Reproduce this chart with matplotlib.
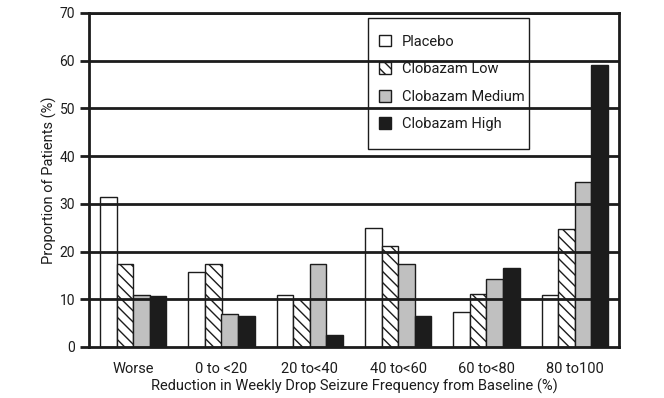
import matplotlib
matplotlib.use("Agg")
import matplotlib.pyplot as plt
import numpy as np
from matplotlib.patches import Patch, Rectangle

plt.rcParams['font.family'] = ['Roboto', 'Liberation Sans', 'DejaVu Sans']
plt.rcParams['hatch.linewidth'] = 1.0

categories = ["Worse", "0 to <20", "20 to<40", "40 to<60", "60 to<80", "80 to100"]
series = ["Placebo", "Clobazam Low", "Clobazam Medium", "Clobazam High"]
placebo = [31.5, 15.8, 11.0, 24.9, 7.3, 11.0]
clob_low = [17.3, 17.3, 10.0, 21.1, 11.2, 24.7]
clob_med = [10.8, 7.0, 17.3, 17.5, 14.2, 34.6]
clob_high = [10.6, 6.4, 2.5, 6.4, 16.6, 59.1]
yticks = [0, 10, 20, 30, 40, 50, 60, 70]

values = [placebo, clob_low, clob_med, clob_high]
faces = ["white", "white", "#c0c0c0", "#1c1c1c"]
hatches = [None, "\\\\\\", None, None]
ink = "#1c1c1c"

fig = plt.figure(figsize=(6.64, 3.98), dpi=100)
ax = fig.add_axes([89/664, 1-347/398, 530/664, 334/398])

def fx(px):
    return (px - 89) / 530

def fy(py):
    return (347 - py) / 334

x = np.arange(len(categories))
w = 0.187
for i, (vals, fc, h) in enumerate(zip(values, faces, hatches)):
    ax.bar(x + (i - 1.5) * w, vals, width=w, color=fc, edgecolor=ink,
           linewidth=1.0, hatch=h, zorder=2)

for yv in yticks[1:]:
    ax.axhline(yv, color=ink, linewidth=2.0, zorder=3)

ax.set_xlim(-0.5, 5.5)
ax.set_ylim(0, 70)
ax.set_yticks(yticks)
ax.set_xticks(x)
ax.set_xticklabels(categories, fontsize=10.5)
ax.tick_params(axis='x', length=0, pad=11, colors=ink)
ax.tick_params(axis='y', length=6.5, width=2, pad=3.5, labelsize=10, direction='out', colors=ink)
for s in ax.spines.values():
    s.set_linewidth(2.0)
    s.set_color(ink)
    s.set_zorder(4)

ax.set_ylabel("Proportion of Patients (%)", fontsize=10.5, color=ink)
ax.yaxis.set_label_coords(fx(57), 0.5)
ax.set_xlabel("Reduction in Weekly Drop Seizure Frequency from Baseline (%)", fontsize=10.5, labelpad=2, color=ink)

# legend frame
ax.add_patch(Rectangle((fx(368), fy(149)), fx(529) - fx(368), fy(18) - fy(149),
                       transform=ax.transAxes, facecolor="white", edgecolor=ink,
                       linewidth=1.0, zorder=1))

handles = [Patch(facecolor=fc, edgecolor=ink, hatch=h, linewidth=1.0)
           for fc, h in zip(faces, hatches)]
leg = ax.legend(handles, series, loc='center left',
                bbox_to_anchor=(fx(379), fy(83)), frameon=False,
                fontsize=10.5, handlelength=0.85, handleheight=0.85,
                handletextpad=0.7, labelspacing=0.93, borderpad=0.0,
                borderaxespad=0.0)
for t in leg.get_texts():
    t.set_color(ink)
leg.set_zorder(1.5)

fig.savefig("out.png", dpi=100)
